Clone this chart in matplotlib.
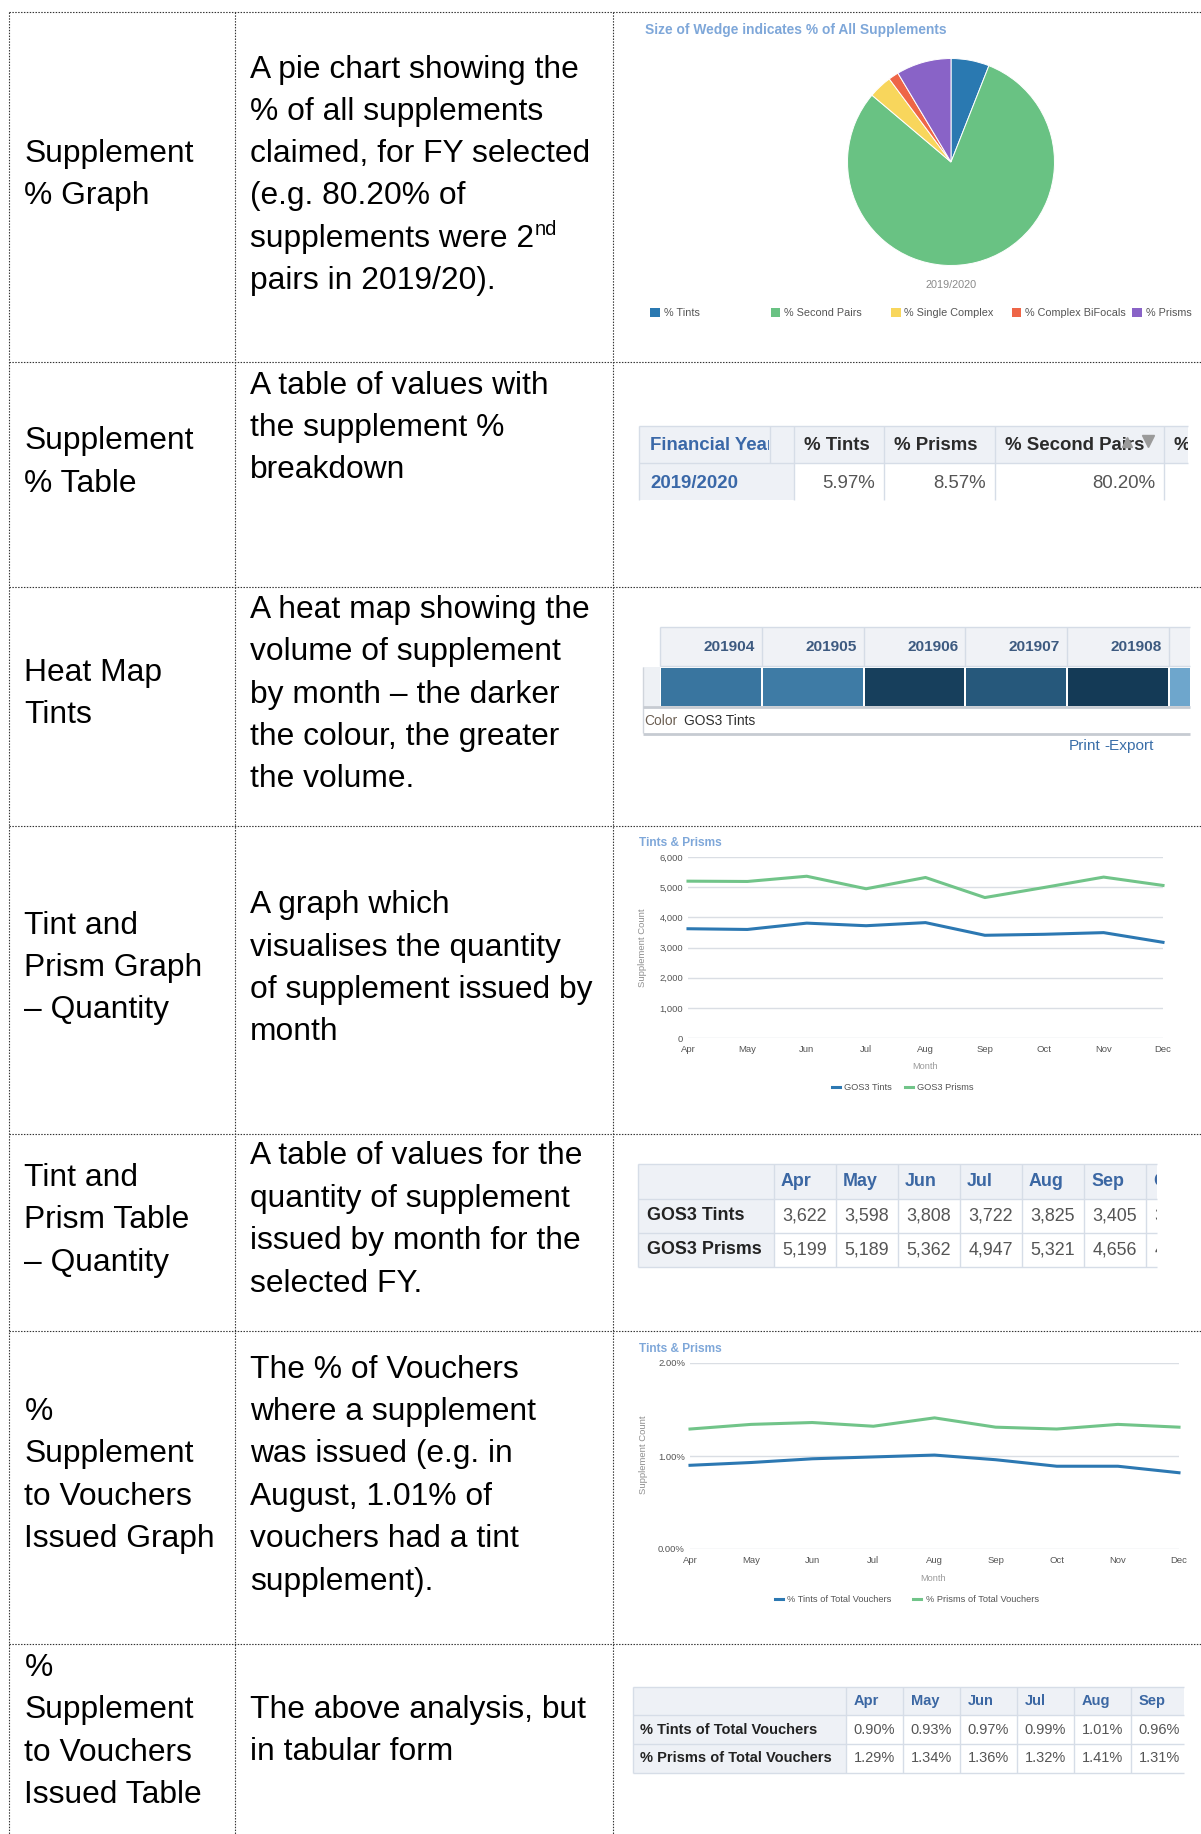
import matplotlib
matplotlib.use("Agg")
import matplotlib.pyplot as plt
from matplotlib import font_manager as fm
from matplotlib.patches import Rectangle
from matplotlib.colors import LinearSegmentedColormap, Normalize
from matplotlib.transforms import Bbox

# ---------------- data ----------------
pie_labels = ["% Tints", "% Second Pairs", "% Single Complex", "% Complex BiFocals", "% Prisms"]
pie_values = [5.97, 80.20, 3.66, 1.60, 8.57]
pie_colors = ["#2a79b1", "#69c283", "#f8d65c", "#ee6547", "#8963c7"]
fy_label = "2019/2020"

supp_cols = ["% Tints", "% Prisms", "% Second Pairs", "%"]
supp_vals = ["5.97%", "8.57%", "80.20%", ""]

months = ["Apr", "May", "Jun", "Jul", "Aug", "Sep", "Oct", "Nov", "Dec"]
heat_codes = ["201904", "201905", "201906", "201907", "201908", "201909"]
tints_count = [3622, 3598, 3808, 3722, 3825, 3405, 3438, 3493, 3172]
prisms_count = [5199, 5189, 5362, 4947, 5321, 4656, 4990, 5334, 5057]
tints_pct = [0.90, 0.93, 0.97, 0.99, 1.01, 0.96, 0.89, 0.89, 0.82]
prisms_pct = [1.29, 1.34, 1.36, 1.32, 1.41, 1.31, 1.29, 1.34, 1.31]

count_labels = ["GOS3 Tints", "GOS3 Prisms"]
pct_labels = ["% Tints of Total Vouchers", "% Prisms of Total Vouchers"]

row_names = [
    ["Supplement", "% Graph"],
    ["Supplement", "% Table"],
    ["Heat Map", "Tints"],
    ["Tint and", "Prism Graph", "\u2013 Quantity"],
    ["Tint and", "Prism Table", "\u2013 Quantity"],
    ["%", "Supplement", "to Vouchers", "Issued Graph"],
    ["%", "Supplement", "to Vouchers", "Issued Table"],
]
row_desc = [
    ["A pie chart showing the", "% of all supplements", "claimed, for FY selected",
     "(e.g. 80.20% of", "supplements were 2", "pairs in 2019/20)."],
    ["A table of values with", "the supplement %", "breakdown"],
    ["A heat map showing the", "volume of supplement", "by month \u2013 the darker",
     "the colour, the greater", "the volume."],
    ["A graph which", "visualises the quantity", "of supplement issued by", "month"],
    ["A table of values for the", "quantity of supplement", "issued by month for the",
     "selected FY."],
    ["The % of Vouchers", "where a supplement", "was issued (e.g. in",
     "August, 1.01% of", "vouchers had a tint", "supplement)."],
    ["The above analysis, but", "in tabular form"],
]

# ---------------- fonts ----------------
names = {f.name for f in fm.fontManager.ttflist}
BODY = "Liberation Sans" if "Liberation Sans" in names else "DejaVu Sans"
if "Liberation Sans Narrow" in names:
    NARROW, NF = "Liberation Sans Narrow", 1.0
else:
    NARROW, NF = BODY, 0.85
plt.rcParams["font.family"] = [BODY, "DejaVu Sans"]

W, H = 1201, 1834
fig = plt.figure(figsize=(W / 100, H / 100), dpi=100)
fig.patch.set_facecolor("white")
bg = fig.add_axes([0, 0, 1, 1])
bg.set_xlim(0, W)
bg.set_ylim(H, 0)
bg.axis("off")
renderer = fig.canvas.get_renderer()


def px_axes(x0, y0, x1, y1):
    return fig.add_axes([x0 / W, 1 - y1 / H, (x1 - x0) / W, (y1 - y0) / H])


def clip_to(artist, x0, y0, x1, y1):
    """Clip a text to a table's visible region; drop it if nothing of it shows."""
    artist.set_clip_box(Bbox.from_extents(x0, H - y1, x1, H - y0))
    artist.set_clip_on(True)
    bb = artist.get_window_extent(renderer)
    if bb.x0 >= x1 - 0.5 or bb.x1 <= x0:
        artist.remove()
        return None
    return artist


def rect(x0, y0, x1, y1, fc, clipx=None):
    if clipx is not None:
        x1 = min(x1, clipx)
    if x1 <= x0:
        return
    bg.add_patch(Rectangle((x0, y0), x1 - x0, y1 - y0, facecolor=fc, edgecolor="none", zorder=1))


def hline(y, x0, x1, c, lw=1.0, z=2):
    bg.plot([x0, x1], [y, y], color=c, lw=lw, zorder=z, solid_capstyle="butt")


def vline(x, y0, y1, c, lw=1.0, z=2):
    bg.plot([x, x], [y0, y1], color=c, lw=lw, zorder=z, solid_capstyle="butt")


# ---------------- document grid ----------------
row_y = [12, 362, 587, 826, 1134, 1331, 1644]
col_x = [9, 235, 613]
dot = (0, (1.3, 1.3))
for y in row_y:
    bg.plot([col_x[0], W], [y, y], color="#333333", lw=0.8, ls=dot, zorder=3)
for x in col_x:
    bg.plot([x, x], [row_y[0], H], color="#333333", lw=0.8, ls=dot, zorder=3)

BODY_PT = 22.9
BASE = 11.4
name_y = [[151, 193], [438, 481], [670, 712], [923, 965, 1007], [1175, 1217, 1260],
          [1409, 1451, 1494, 1536], [1665, 1707, 1750, 1792]]
desc_y = [[67, 109, 151, 193, 236, 278], [383, 425, 467], [607, 649, 692, 734, 776],
          [902, 945, 987, 1029], [1153, 1196, 1238, 1281],
          [1367, 1409, 1451, 1494, 1536, 1579], [1707, 1749]]
for r in range(len(row_names)):
    for s, y in zip(row_names[r], name_y[r]):
        bg.text(24.5, y + BASE, s, fontsize=BODY_PT, va="baseline", ha="left", color="#000000")
    for s, y in zip(row_desc[r], desc_y[r]):
        t = bg.text(250, y + BASE, s, fontsize=BODY_PT, va="baseline", ha="left", color="#000000")
        if s.endswith("were 2"):
            bb = t.get_window_extent(renderer)
            bg.text(bb.x1 + 1, y + BASE - 12.5, "nd", fontsize=14.5, va="baseline",
                    ha="left", color="#000000")

# ---------------- panel 1: pie ----------------
TITLE_C = "#7ea7d9"
bg.text(645, 30, "Size of Wedge indicates % of All Supplements", fontsize=9.9,
        fontweight="bold", color=TITLE_C, va="center", ha="left")
pax = px_axes(847, 58, 1055, 266)
pax.pie(pie_values, colors=pie_colors, startangle=90, counterclock=False, radius=1,
        wedgeprops=dict(edgecolor="white", linewidth=0.7))
pax.set_xlim(-1.005, 1.005)
pax.set_ylim(-1.005, 1.005)
pax.set_aspect("equal")
pax.axis("off")
bg.text(951, 285, fy_label, fontsize=7.8, color="#8a8a8a", ha="center", va="center")
for i, (lab, c) in enumerate(zip(pie_labels, pie_colors)):
    x = 650 + i * 120.5
    bg.add_patch(Rectangle((x, 307.5), 9.5, 9.5, facecolor=c, edgecolor="none"))
    bg.text(x + 13.5, 312.5, lab, fontsize=7.8, color="#555555", va="center", ha="left")

# ---------------- panel 2: supplement % table ----------------
HDR = "#eef1f6"
BRD = "#d6dde7"
BLUE_T = "#3a68a8"
T_PT = 13.4
ty = [426, 463, 500]
tx = [639, 794, 884, 995, 1164, 1240]
clip2 = 1188
for i in range(len(tx) - 1):
    rect(tx[i], ty[0], tx[i + 1], ty[1], HDR, clip2)
    rect(tx[i], ty[1], tx[i + 1], ty[2], HDR if i == 0 else "white", clip2)
hline(ty[0], tx[0], clip2, BRD)
hline(ty[1], tx[0], clip2, BRD)
for x in tx:
    if x < clip2:
        vline(x, ty[0], ty[2], BRD)
vline(770, ty[0], ty[1], BRD)
t = bg.text(650, 445, "Financial Year", fontsize=T_PT, fontweight="bold", color=BLUE_T,
            va="center", ha="left", zorder=4)
clip_to(t, 639, ty[0], 769, ty[1])
for i, lab in enumerate(supp_cols):
    t = bg.text(tx[i + 1] + 10, 445, lab, fontsize=T_PT, fontweight="bold", color="#2b2b2b",
                va="center", ha="left", zorder=4)
    clip_to(t, tx[0], ty[0], clip2, ty[1])
bg.text(650, 483, fy_label, fontsize=T_PT, fontweight="bold", color=BLUE_T, va="center",
        ha="left", zorder=4)
for i, v in enumerate(supp_vals):
    if not v:
        continue
    t = bg.text(tx[i + 2] - 9, 483, v, fontsize=T_PT, color="#555555", va="center",
                ha="right", zorder=4)
    clip_to(t, tx[0], ty[0], clip2, ty[2])
bg.plot([1127], [442], marker="^", ms=7, color="#9a9a9a", zorder=5, ls="none")
bg.plot([1148], [441], marker="v", ms=9, color="#9a9a9a", zorder=5, ls="none")

# ---------------- panel 3: heat map ----------------
heat_vals = tints_count[:len(heat_codes)]
cmap = LinearSegmentedColormap.from_list("heat", ["#6ea6cc", "#3a77a2", "#143a56"])
norm = Normalize(vmin=min(heat_vals), vmax=max(heat_vals))
hx0 = 660
hw = 101.8
clip3 = 1190
rect(hx0, 627, clip3, 666, "#f0f2f6")
hline(627, hx0, clip3, "#d5dce6")
hline(666, hx0, clip3, "#d5dce6")
rect(643, 667, hx0, 706, "#eef1f5")
vline(643, 667, 733, "#d0d5dc")
for i, (code, v) in enumerate(zip(heat_codes, heat_vals)):
    x0 = hx0 + i * hw
    x1 = x0 + hw
    vline(x0, 627, 666, "#d5dce6")
    rect(x0 + 1, 668, x1 - 1, 706, cmap(norm(v)), clip3)
    t = bg.text(x1 - 7, 647, code, fontsize=13.0 * NF, fontweight="bold", family=NARROW,
                color="#3d5a80", va="center", ha="right", zorder=4)
    clip_to(t, 640, 620, clip3, 670)
hline(707, 643, clip3, "#c6cbd2", lw=2)
hline(733.5, 643, clip3, "#c6cbd2", lw=2)
bg.text(644, 721, "Color", fontsize=11.7 * NF, family=NARROW, color="#6b5e52",
        va="center", ha="left")
bg.text(684, 721, "GOS3 Tints", fontsize=11.7 * NF, family=NARROW, color="#2d2d2d",
        va="center", ha="left")
bg.text(1069, 746, "Print", fontsize=13 * NF, family=NARROW, color="#3a6ea8",
        va="center", ha="left")
bg.text(1104, 746, "-Export", fontsize=13 * NF, family=NARROW, color="#3a6ea8",
        va="center", ha="left")

# ---------------- line charts ----------------
LBLUE = "#2c78b2"
LGREEN = "#71c489"


def style_line_axes(ax, ylabel):
    for sp in ax.spines.values():
        sp.set_visible(False)
    ax.yaxis.grid(True, color="#dadee4", lw=1.0)
    ax.set_axisbelow(True)
    ax.tick_params(axis="both", length=0, labelsize=6.8, labelcolor="#555555")
    ax.tick_params(axis="y", pad=3.6)
    ax.tick_params(axis="x", pad=5.0)
    ax.set_xlabel("Month", fontsize=6.6, color="#9a9a9a")
    ax.xaxis.label.set_va("center")
    ax.set_ylabel(ylabel, fontsize=6.8, color="#8f8f8f")
    ax.yaxis.label.set_va("center")
    ax.yaxis.label.set_ha("center")


xs = list(range(len(months)))

bg.text(639, 843, "Tints & Prisms", fontsize=8.6, fontweight="bold", color=TITLE_C,
        va="center", ha="left")
ax1 = px_axes(688, 857, 1163, 1038)
ax1.plot(xs, tints_count, color=LBLUE, lw=2.2, label=count_labels[0], clip_on=False)
ax1.plot(xs, prisms_count, color=LGREEN, lw=2.2, label=count_labels[1], clip_on=False)
ax1.set_xlim(0, len(months) - 1)
ax1.set_ylim(0, 6000)
ax1.set_yticks(range(0, 6001, 1000))
ax1.set_yticklabels([f"{v:,}" for v in range(0, 6001, 1000)])
ax1.set_xticks(xs)
ax1.set_xticklabels(months)
style_line_axes(ax1, "Supplement Count")
ax1.xaxis.set_label_coords(0.5, -0.16)
ax1.yaxis.set_label_coords(-0.095, 0.5)
ax1.legend(loc="center", bbox_to_anchor=(0.453, -0.276), ncol=2, frameon=False,
           fontsize=6.7, handlelength=0.8, handletextpad=0.5, columnspacing=1.4,
           labelcolor="#555555")

bg.text(639, 1349, "Tints & Prisms", fontsize=8.6, fontweight="bold", color=TITLE_C,
        va="center", ha="left")
ax2 = px_axes(690, 1363, 1179, 1549)
ax2.plot(xs, tints_pct, color=LBLUE, lw=2.2, label=pct_labels[0], clip_on=False)
ax2.plot(xs, prisms_pct, color=LGREEN, lw=2.2, label=pct_labels[1], clip_on=False)
ax2.set_xlim(0, len(months) - 1)
ax2.set_ylim(0, 2)
ax2.set_yticks([0, 1, 2])
ax2.set_yticklabels([f"{v:.2f}%" for v in [0, 1, 2]])
ax2.set_xticks(xs)
ax2.set_xticklabels(months)
style_line_axes(ax2, "Supplement Count")
ax2.xaxis.set_label_coords(0.497, -0.161)
ax2.yaxis.set_label_coords(-0.096, 0.505)
ax2.legend(loc="center", bbox_to_anchor=(0.443, -0.274), ncol=2, frameon=False,
           fontsize=6.7, handlelength=0.85, handletextpad=0.5, columnspacing=2.3,
           labelcolor="#555555")


# ---------------- month tables ----------------
def month_table(x_left, x_first, cw, ys, clipx, rows, labels, fmt, pt, hpad, vpad,
                label_x):
    nx = [x_first + i * cw for i in range(len(months) + 1)]
    rect(x_left, ys[0], x_first, ys[-1], HDR, clipx)
    rect(x_first, ys[0], nx[-1], ys[1], HDR, clipx)
    rect(x_first, ys[1], nx[-1], ys[-1], "white", clipx)
    for y in ys:
        hline(y, x_left, clipx, BRD)
    for x in [x_left] + nx:
        if x < clipx:
            vline(x, ys[0], ys[-1], BRD)
    hc = (ys[0] + ys[1]) / 2
    for i, m in enumerate(months):
        t = bg.text(nx[i] + hpad, hc, m, fontsize=pt, fontweight="bold", color="#3b67a3",
                    va="center", ha="left", zorder=4)
        clip_to(t, x_left, ys[0], clipx, ys[-1])
    for r, (lab, vals) in enumerate(zip(labels, rows)):
        yc = (ys[r + 1] + ys[r + 2]) / 2
        bg.text(label_x, yc, lab, fontsize=pt, fontweight="bold", color="#222222",
                va="center", ha="left", zorder=4)
        for i, v in enumerate(vals):
            t = bg.text(nx[i + 1] - vpad, yc, fmt(v), fontsize=pt, color="#555555",
                        va="center", ha="right", zorder=4)
            clip_to(t, x_left, ys[0], clipx, ys[-1])


month_table(638, 774, 62.0, [1164, 1199, 1233, 1267], 1157,
            [tints_count, prisms_count], count_labels, lambda v: f"{v:,}",
            12.9, 7, 9, 647)
month_table(633, 846, 57.0, [1687, 1715, 1744, 1773], 1184,
            [tints_pct, prisms_pct], pct_labels, lambda v: f"{v:.2f}%",
            10.5, 8, 8, 640)

fig.savefig("out.png", dpi=100, facecolor="white")
